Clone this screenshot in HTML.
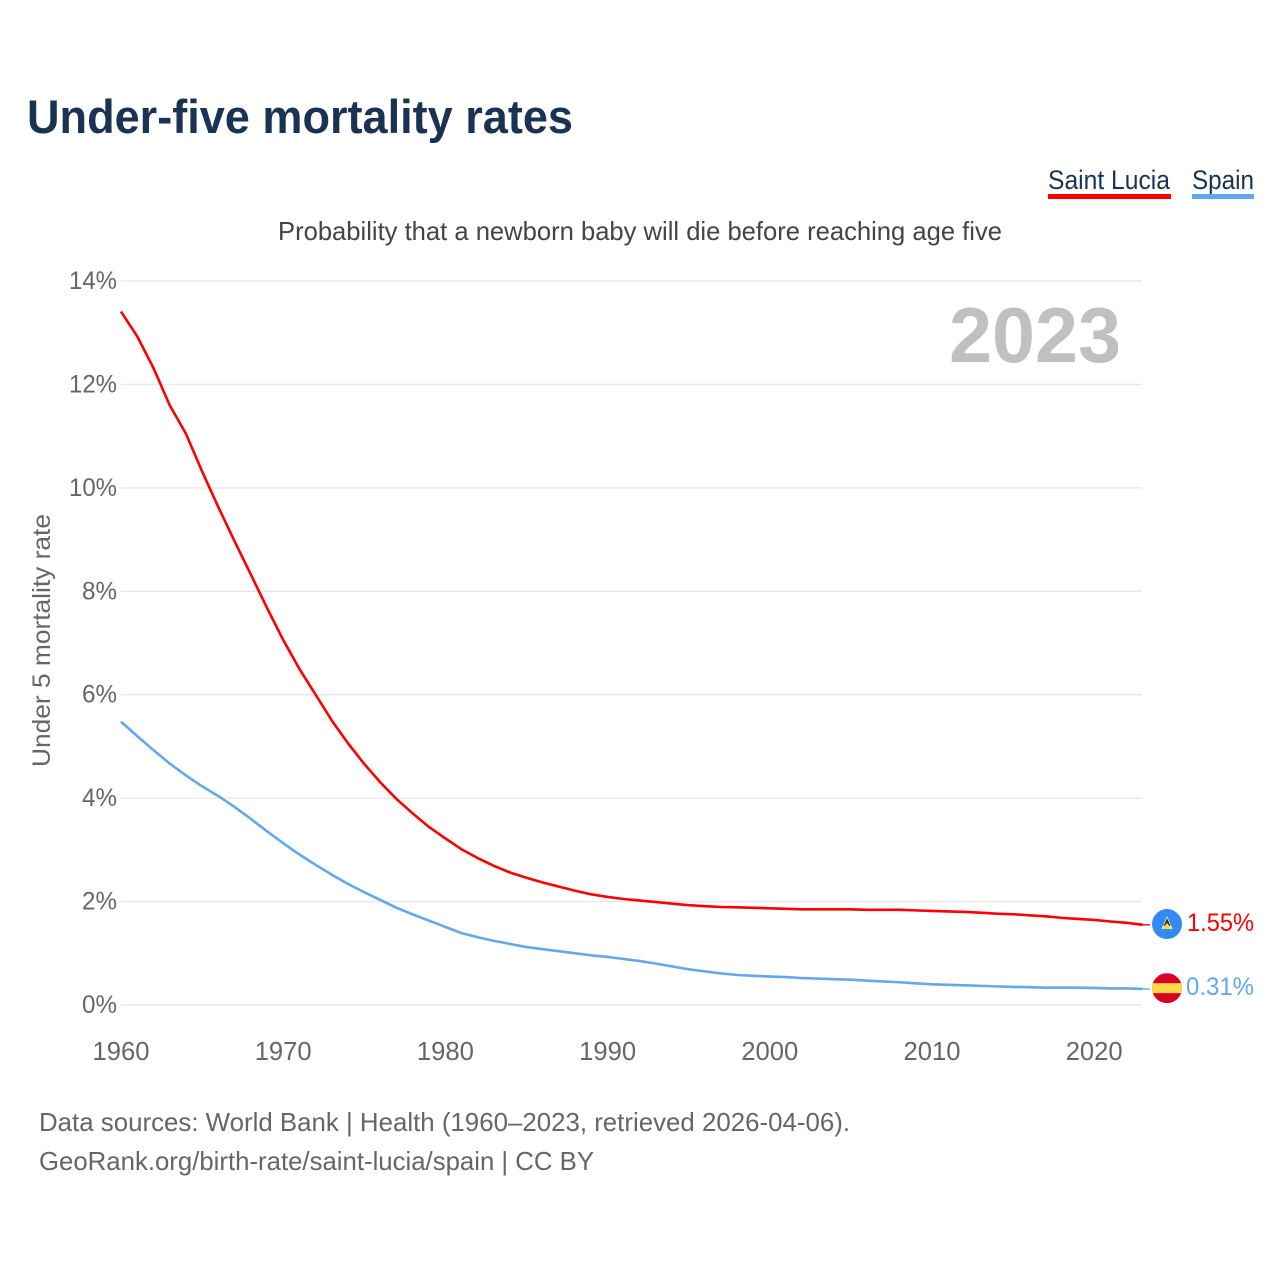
<!DOCTYPE html>
<html lang="en">
<head>
<meta charset="utf-8">
<title>Under-five mortality rates</title>
<style>
  html, body { margin: 0; padding: 0; background: #fff; }
  svg { display: block; font-family: "Liberation Sans", sans-serif; }
</style>
</head>
<body>
<svg id="chart" width="1280" height="1280" viewBox="0 0 1280 1280" xmlns="http://www.w3.org/2000/svg">
  <rect width="1280" height="1280" fill="#ffffff"/>
  <text x="27" y="133" font-size="47" font-weight="700" fill="#1a3353" textLength="546" lengthAdjust="spacingAndGlyphs">Under-five mortality rates</text>

  <g>
    <text x="1048" y="189" font-size="27" fill="#1a3353" textLength="122" lengthAdjust="spacingAndGlyphs">Saint Lucia</text>
    <rect x="1048" y="194" width="123" height="5" fill="#ff0000"/>
  </g>
  <g>
    <text x="1192" y="189" font-size="27" fill="#1a3353" textLength="62" lengthAdjust="spacingAndGlyphs">Spain</text>
    <rect x="1192" y="194" width="62" height="5" fill="#62a8ee"/>
  </g>

  <text x="278" y="240" font-size="26" fill="#444444" textLength="724" lengthAdjust="spacingAndGlyphs">Probability that a newborn baby will die before reaching age five</text>

  <g id="grid"></g>
  <g id="y-ticks"></g>
  <g id="x-ticks"></g>

  <text transform="translate(50 767) rotate(-90)" x="0" y="0" font-size="25" fill="#666666" textLength="253" lengthAdjust="spacingAndGlyphs">Under 5 mortality rate</text>

  <text x="949" y="362" font-size="78" font-weight="700" fill="#c0c0c0" textLength="172" lengthAdjust="spacingAndGlyphs">2023</text>

  <g id="series"></g>

  <g id="flag-lc">
    <circle cx="0" cy="0" r="15" fill="#338af3"/>
    <polygon points="0,-8 5.5,5 -5.5,5" fill="#f3f3f3"/>
    <polygon points="0,-6 3.6,2 -3.6,2" fill="#333333"/>
    <polygon points="0,-1 5,5 -5,5" fill="#ffda44"/>
  </g>
  <g id="flag-es">
    <clipPath id="es-clip"><circle cx="0" cy="0" r="15"/></clipPath>
    <g clip-path="url(#es-clip)">
      <rect x="-15" y="-15" width="30" height="30" fill="#d80027"/>
      <rect x="-15" y="-5" width="30" height="10" fill="#ffda44"/>
    </g>
  </g>
  <g id="end-labels"></g>

  <text x="39" y="1131" font-size="26" fill="#666666" textLength="811" lengthAdjust="spacingAndGlyphs">Data sources: World Bank | Health (1960–2023, retrieved 2026-04-06).</text>
  <text x="39" y="1170" font-size="26" fill="#666666" textLength="555" lengthAdjust="spacingAndGlyphs">GeoRank.org/birth-rate/saint-lucia/spain | CC BY</text>
</svg>

<script>
const startYear = 1960;
const xTickYears = [1960, 1970, 1980, 1990, 2000, 2010, 2020];
const yTickValues = [0, 2, 4, 6, 8, 10, 12, 14];
const saintLuciaValues = [
  13.41, 12.93, 12.32, 11.60, 11.05, 10.32, 9.63, 8.97, 8.33, 7.68,
  7.06, 6.50, 6.00, 5.50, 5.06, 4.66, 4.30, 3.98, 3.70, 3.44,
  3.22, 3.01, 2.84, 2.69, 2.56, 2.46, 2.37, 2.29, 2.21, 2.14,
  2.09, 2.05, 2.02, 1.99, 1.96, 1.93, 1.91, 1.895, 1.89, 1.88,
  1.87, 1.86, 1.85, 1.85, 1.85, 1.85, 1.84, 1.84, 1.84, 1.83,
  1.82, 1.81, 1.80, 1.785, 1.765, 1.755, 1.735, 1.715, 1.685, 1.665,
  1.645, 1.615, 1.59, 1.55
];
const spainValues = [
  5.48, 5.20, 4.93, 4.67, 4.44, 4.23, 4.04, 3.83, 3.60, 3.36,
  3.13, 2.91, 2.71, 2.52, 2.34, 2.18, 2.03, 1.88, 1.75, 1.63,
  1.51, 1.39, 1.31, 1.24, 1.18, 1.12, 1.08, 1.04, 1.00, 0.96,
  0.93, 0.89, 0.85, 0.80, 0.745, 0.69, 0.65, 0.61, 0.58, 0.565,
  0.55, 0.54, 0.52, 0.51, 0.50, 0.49, 0.47, 0.455, 0.44, 0.42,
  0.40, 0.39, 0.38, 0.37, 0.36, 0.35, 0.345, 0.335, 0.335, 0.335,
  0.33, 0.32, 0.32, 0.31
];

const NS = 'http://www.w3.org/2000/svg';
const xScale = (year) => 121 + (year - 1960) * 16.22;
const yScale = (value) => 1005 - value * 51.71;
const lastYear = startYear + saintLuciaValues.length - 1;

function make(tag, attrs, parent, text) {
  const el = document.createElementNS(NS, tag);
  for (const k in attrs) el.setAttribute(k, attrs[k]);
  if (text !== undefined) el.textContent = text;
  parent.appendChild(el);
  return el;
}

const gridGroup = document.getElementById('grid');
const yTickGroup = document.getElementById('y-ticks');
const xTickGroup = document.getElementById('x-ticks');
const seriesGroup = document.getElementById('series');
const endLabelGroup = document.getElementById('end-labels');

yTickValues.forEach((v) => {
  const line = make('line', { x1: xScale(startYear), x2: xScale(lastYear) - 1, y1: yScale(v), y2: yScale(v), stroke: '#e8e8e8', 'stroke-width': 1.4 }, gridGroup);
  
  
  const label = v + '%';
  const tick = make('text', { x: 117, y: yScale(v) + 8, 'text-anchor': 'end', 'font-size': 25, fill: '#666666', textLength: label.length === 2 ? 35 : 48, lengthAdjust: 'spacingAndGlyphs' }, yTickGroup, label);
  
  
});

xTickYears.forEach((yr) => {
  const tick = make('text', { x: xScale(yr), y: 1060, 'text-anchor': 'middle', 'font-size': 26, fill: '#666666', textLength: 57, lengthAdjust: 'spacingAndGlyphs' }, xTickGroup, String(yr));
  
  
});

function drawSeries(values, color, seriesName, flagId, labelX, labelWidth) {
  const pts = values.map((v, i) => xScale(startYear + i).toFixed(2) + ',' + yScale(v).toFixed(2)).join(' ');
  const line = make('polyline', { points: pts, fill: 'none', stroke: color, 'stroke-width': 2.6, 'stroke-linejoin': 'round', 'stroke-linecap': 'butt' }, seriesGroup);
  
  
  const last = values[values.length - 1];
  const endX = xScale(startYear + values.length - 1);
  const endY = yScale(last);
  const leader = make('line', { x1: endX, x2: 1150, y1: endY, y2: endY, stroke: color, 'stroke-width': 1.4 }, seriesGroup);
  
  
  document.getElementById(flagId).setAttribute('transform', 'translate(1167 ' + (endY - 0.8) + ')');
  const text = make('text', { x: labelX, y: endY + 6, 'font-size': 25, fill: color, textLength: labelWidth, lengthAdjust: 'spacingAndGlyphs' }, endLabelGroup, last.toFixed(2) + '%');
  
  
}

drawSeries(spainValues, '#62a8ee', 'spain', 'flag-es', 1186, 68);
drawSeries(saintLuciaValues, '#ff0000', 'saint-lucia', 'flag-lc', 1187, 67);
</script>
</body>
</html>
